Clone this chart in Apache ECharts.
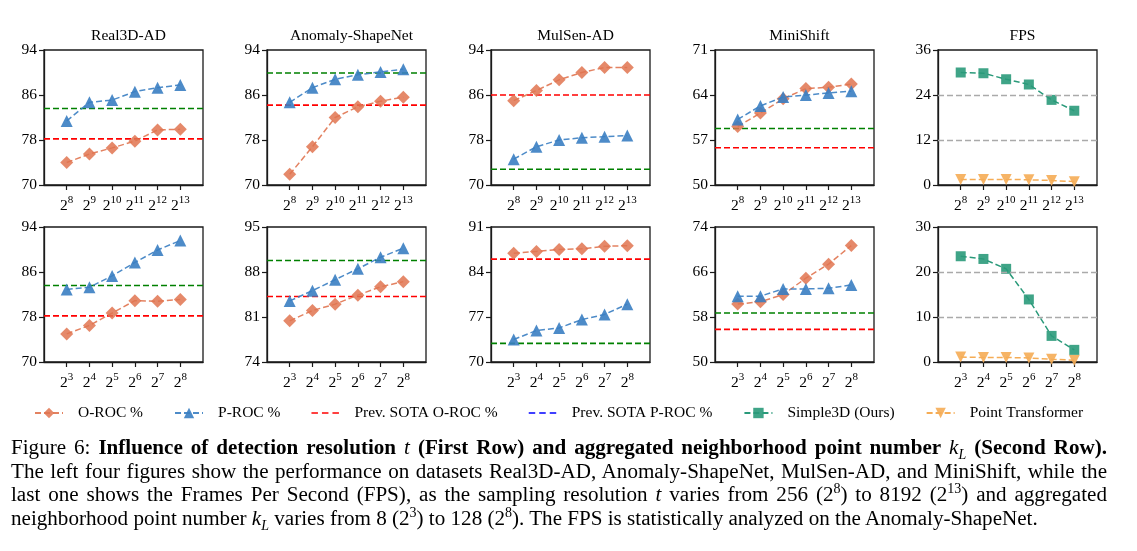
<!DOCTYPE html>
<html>
<head>
<meta charset="utf-8">
<script src="https://cdn.jsdelivr.net/npm/echarts@6/dist/echarts.min.js"></script>
<style>
  body { margin: 0; background: #fff; }
  #chart { position: absolute; left: 0; top: 0; width: 1137px; height: 551px; }
  #caption { position: absolute; left: 11px; top: 436px; width: 1096px;
    font-family: 'Liberation Serif', 'DejaVu Serif', serif; font-size: 21.1px; line-height: 23.7px; color: #000; }
  #caption .j { text-align: justify; text-align-last: justify; }
  #caption i { font-style: italic; }
  #caption sup { font-size: 14px; line-height: 0; }
  #caption sub { font-size: 14px; line-height: 0; }
</style>
</head>
<body>
<div id="chart"></div>
<div id="caption">
  <div class="j">Figure 6: <b>Influence of detection resolution</b> <i>t</i> <b>(First Row) and aggregated neighborhood point number</b> <i>k<sub>L</sub></i> <b>(Second Row).</b></div>
  <div class="j">The left four figures show the performance on datasets Real3D-AD, Anomaly-ShapeNet, MulSen-AD, and MiniShift, while the</div>
  <div class="j">last one shows the Frames Per Second (FPS), as the sampling resolution <i>t</i> varies from 256 (2<sup>8</sup>) to 8192 (2<sup>13</sup>) and aggregated</div>
  <div>neighborhood point number <i>k<sub>L</sub></i> varies from 8 (2<sup>3</sup>) to 128 (2<sup>8</sup>). The FPS is statistically analyzed on the Anomaly-ShapeNet.</div>
</div>
<script>
// x tick exponents (2^n)
var expRow1 = ['8', '9', '10', '11', '12', '13'];
var expRow2 = ['3', '4', '5', '6', '7', '8'];
var titles = ['Real3D-AD', 'Anomaly-ShapeNet', 'MulSen-AD', 'MiniShift', 'FPS'];

// first row: detection resolution t
var real3dO1 = [74.0, 75.5, 76.6, 77.8, 79.8, 79.9];
var real3dP1 = [81.4, 84.7, 85.1, 86.6, 87.3, 87.8];
var shapeO1 = [71.9, 76.8, 82.0, 83.9, 84.9, 85.6];
var shapeP1 = [84.7, 87.3, 88.8, 89.6, 90.1, 90.6];
var mulsenO1 = [85.0, 86.8, 88.7, 90.0, 90.9, 90.9];
var mulsenP1 = [74.6, 76.8, 78.0, 78.4, 78.6, 78.8];
var miniO1 = [59.1, 61.2, 63.4, 65.0, 65.2, 65.7];
var miniP1 = [60.2, 62.3, 63.7, 64.0, 64.3, 64.6];
var fpsOurs1 = [30.0, 29.8, 28.2, 26.8, 22.7, 19.8];
var fpsPT1 = [1.5, 1.5, 1.5, 1.4, 1.2, 0.9];

// second row: neighborhood point number k_L
var real3dO2 = [75.0, 76.5, 78.7, 80.9, 80.8, 81.1];
var real3dP2 = [82.9, 83.3, 85.3, 87.7, 89.9, 91.6];
var shapeO2 = [80.4, 82.0, 83.0, 84.4, 85.7, 86.5];
var shapeP2 = [83.5, 85.1, 86.8, 88.5, 90.3, 91.7];
var mulsenO2 = [86.9, 87.2, 87.5, 87.6, 88.0, 88.1];
var mulsenP2 = [73.5, 74.9, 75.3, 76.6, 77.4, 79.0];
var miniO2 = [60.3, 60.7, 62.0, 64.9, 67.4, 70.7];
var miniP2 = [61.7, 61.7, 63.0, 63.0, 63.1, 63.7];
var fpsOurs2 = [23.5, 22.9, 20.7, 13.9, 5.8, 2.7];
var fpsPT2 = [1.1, 1.0, 1.0, 0.9, 0.6, 0.4];

// previous SOTA (O-ROC red, P-ROC green) for the four datasets
var sotaO1 = [78.2, 84.2, 86.0, 55.8];
var sotaP1 = [83.6, 89.9, 72.8, 58.8];
var sotaO2 = [78.2, 84.2, 86.0, 55.8];
var sotaP2 = [83.6, 89.8, 72.9, 58.7];

// y tick labels per panel
var yTicks1 = [[70, 78, 86, 94], [70, 78, 86, 94], [70, 78, 86, 94], [50, 57, 64, 71], [0, 12, 24, 36]];
var yTicks2 = [[70, 78, 86, 94], [74, 81, 88, 95], [70, 77, 84, 91], [50, 58, 66, 74], [0, 10, 20, 30]];

var FONT = "'Liberation Serif', 'DejaVu Serif', serif";
var C_O = '#E07450', C_P = '#3A7EC2', C_OURS = '#2A9A7A', C_PT = '#F5AC55';
var lefts = [44, 267, 491, 715, 938];
var tops = [50, 227];
var pos = [0, 1, 2, 3, 4, 5];
// dashed-line legend icon (bbox 28 x 13)
var DASH_ICON = 'path://M0,0L0.05,0L0.05,0.05Z M27.95,13L28,13L28,12.95Z M0,5.7h6.5v1.6h-6.5z M10.5,5.7h6.5v1.6h-6.5z M21,5.7h6.5v1.6h-6.5z';

function pairs(arr) {
  return arr.map(function(v, i) { return [pos[i], v]; });
}

var grids = [], xAxes = [], yAxes = [], series = [], titleList = [];

function addPanel(row, col, exps, ticks) {
  var idx = grids.length;
  grids.push({
    left: lefts[col], top: tops[row], width: 159, height: 135,
    show: true, borderColor: '#1a1a1a', borderWidth: 1.3, backgroundColor: 'transparent'
  });
  xAxes.push({
    type: 'value', gridIndex: idx, min: -1, max: 6,
    axisLine: { show: true, onZero: false, lineStyle: { color: '#1a1a1a', width: 1.3 } },
    axisTick: { show: true, customValues: pos, length: 5, lineStyle: { color: '#1a1a1a', width: 1.2 } },
    axisLabel: {
      customValues: pos, margin: 10, color: '#000',
      formatter: function(v) { return '{b|2}{s|' + exps[Math.round(v)] + '}'; },
      rich: {
        b: { fontFamily: FONT, fontSize: 15.5, color: '#000', verticalAlign: 'bottom' },
        s: { fontFamily: FONT, fontSize: 11, color: '#000', verticalAlign: 'bottom', padding: [0, 0, 8, 0] }
      }
    },
    splitLine: { show: false }
  });
  yAxes.push({
    type: 'value', gridIndex: idx, min: ticks[0], max: ticks[3],
    axisLine: { show: true, onZero: false, lineStyle: { color: '#1a1a1a', width: 1.3 } },
    axisTick: { show: true, customValues: ticks, length: 5, lineStyle: { color: '#1a1a1a', width: 1.2 } },
    axisLabel: { customValues: ticks, fontFamily: FONT, fontSize: 15.5, color: '#000', margin: 7 },
    splitLine: { show: false }
  });
  if (row === 0) {
    titleList.push({
      text: titles[col], left: lefts[col] + 79.5, top: 23, textAlign: 'center',
      textStyle: { fontFamily: FONT, fontSize: 15.5, fontWeight: 'normal', color: '#000' }
    });
  }
  return idx;
}

function dashed(color, w) {
  return { color: color, type: [6, 3], width: w };
}

function rocPanel(row, col, exps, ticks, o, p, sO, sP) {
  var idx = addPanel(row, col, exps, ticks);
  series.push({
    name: 'Prev. SOTA O-ROC %', type: 'line', xAxisIndex: idx, yAxisIndex: idx,
    data: [[-1, sO], [6, sO]], symbol: 'none', color: '#FF0000', lineStyle: dashed('#FF0000', 1.6),
    silent: true, z: 1
  });
  series.push({
    name: 'sota-p-plot', type: 'line', xAxisIndex: idx, yAxisIndex: idx,
    data: [[-1, sP], [6, sP]], symbol: 'none', color: '#008000', lineStyle: dashed('#008000', 1.6),
    silent: true, z: 1
  });
  series.push({
    name: 'O-ROC %', type: 'line', xAxisIndex: idx, yAxisIndex: idx, data: pairs(o),
    symbol: 'diamond', symbolSize: 13, color: C_O,
    lineStyle: { color: C_O, type: [6, 3], width: 1.5, opacity: 0.9 },
    itemStyle: { color: C_O, opacity: 0.85 }, z: 3
  });
  series.push({
    name: 'P-ROC %', type: 'line', xAxisIndex: idx, yAxisIndex: idx, data: pairs(p),
    symbol: 'triangle', symbolSize: 12, color: C_P,
    lineStyle: { color: C_P, type: [6, 3], width: 1.5, opacity: 0.9 },
    itemStyle: { color: C_P, opacity: 0.9 }, z: 4
  });
}

function fpsPanel(row, exps, ticks, ours, pt) {
  var idx = addPanel(row, 4, exps, ticks);
  series.push({
    name: 'Simple3D (Ours)', type: 'line', xAxisIndex: idx, yAxisIndex: idx, data: pairs(ours),
    symbol: 'rect', symbolSize: 10, color: C_OURS,
    lineStyle: { color: C_OURS, type: [6, 3], width: 1.5 },
    itemStyle: { color: C_OURS, opacity: 0.9 }, z: 4,
    markLine: {
      silent: true, symbol: 'none', label: { show: false },
      lineStyle: { color: '#aaaaaa', type: [6, 3], width: 1.3 },
      data: [{ yAxis: ticks[1] }, { yAxis: ticks[2] }]
    }
  });
  series.push({
    name: 'Point Transformer', type: 'line', xAxisIndex: idx, yAxisIndex: idx, data: pairs(pt),
    symbol: 'triangle', symbolRotate: 180, symbolSize: 11, color: C_PT,
    lineStyle: { color: C_PT, type: [6, 3], width: 1.5 },
    itemStyle: { color: C_PT, opacity: 0.9 }, z: 3, clip: false
  });
}

rocPanel(0, 0, expRow1, yTicks1[0], real3dO1, real3dP1, sotaO1[0], sotaP1[0]);
rocPanel(0, 1, expRow1, yTicks1[1], shapeO1, shapeP1, sotaO1[1], sotaP1[1]);
rocPanel(0, 2, expRow1, yTicks1[2], mulsenO1, mulsenP1, sotaO1[2], sotaP1[2]);
rocPanel(0, 3, expRow1, yTicks1[3], miniO1, miniP1, sotaO1[3], sotaP1[3]);
fpsPanel(0, expRow1, yTicks1[4], fpsOurs1, fpsPT1);
rocPanel(1, 0, expRow2, yTicks2[0], real3dO2, real3dP2, sotaO2[0], sotaP2[0]);
rocPanel(1, 1, expRow2, yTicks2[1], shapeO2, shapeP2, sotaO2[1], sotaP2[1]);
rocPanel(1, 2, expRow2, yTicks2[2], mulsenO2, mulsenP2, sotaO2[2], sotaP2[2]);
rocPanel(1, 3, expRow2, yTicks2[3], miniO2, miniP2, sotaO2[3], sotaP2[3]);
fpsPanel(1, expRow2, yTicks2[4], fpsOurs2, fpsPT2);

// legend-only entry (drawn blue in the legend, green in the plots)
series.push({
  name: 'Prev. SOTA P-ROC %', type: 'line', xAxisIndex: 0, yAxisIndex: 0, data: [],
  symbol: 'none', color: '#0000FF', lineStyle: dashed('#0000FF', 1.6)
});

var chart = echarts.init(document.getElementById('chart'), null, { renderer: 'canvas' });
chart.setOption({
  animation: false,
  backgroundColor: '#fff',
  title: titleList,
  legend: {
    left: 29, top: 400, itemWidth: 28, itemHeight: 13, itemGap: 31, selectedMode: false,
    textStyle: { fontFamily: FONT, fontSize: 15.5, color: '#000', padding: [0, 0, 0, 10] },
    data: [
      'O-ROC %', 'P-ROC %',
      { name: 'Prev. SOTA O-ROC %', icon: DASH_ICON },
      { name: 'Prev. SOTA P-ROC %', icon: DASH_ICON },
      'Simple3D (Ours)', 'Point Transformer'
    ]
  },
  grid: grids,
  xAxis: xAxes,
  yAxis: yAxes,
  series: series
});
</script>
</body>
</html>
